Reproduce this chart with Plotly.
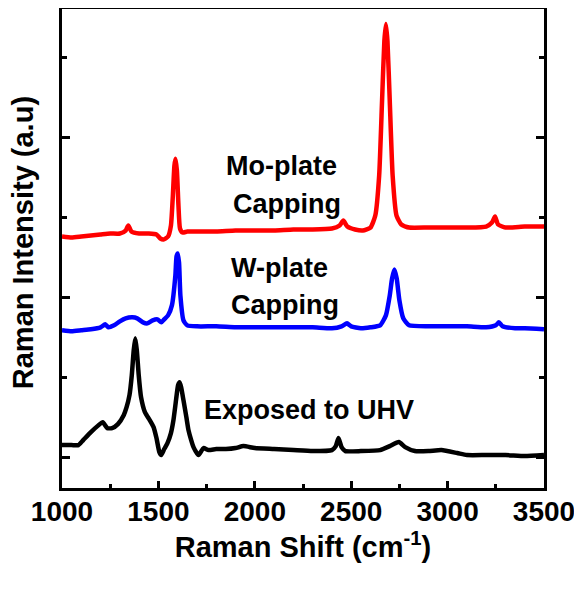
import plotly.graph_objects as go

# Raman shift (cm^-1) and intensity (a.u., offset stacked)
uhv_shift = [1000, 1050, 1085, 1110, 1150, 1190, 1211, 1235, 1260, 1290, 1320, 1335, 1350, 1362,
             1372, 1380, 1388, 1398, 1410, 1430, 1455, 1475, 1490, 1505, 1515, 1530, 1547, 1565,
             1578, 1592, 1602, 1610, 1618, 1630, 1645, 1656, 1670, 1682, 1708, 1734, 1760, 1800,
             1850, 1900, 1941, 2000, 2100, 2200, 2300, 2400, 2420, 2434, 2450, 2470, 2550, 2650,
             2700, 2747, 2780, 2830, 2900, 2968, 3050, 3100, 3200, 3300, 3400, 3500]
uhv_int = [12, 12, 12, 17, 25, 32, 35, 29, 29, 33, 42, 50, 62, 82,
           107, 119, 107, 82, 60, 45, 37, 30, 19, 5, 2, 8, 14, 24,
           37, 58, 72, 75, 70, 57, 40, 27, 17, 10, 2, 9, 7, 8,
           8, 9, 11, 9, 8, 7, 6, 7, 11, 19, 10, 6, 6, 7,
           11, 15, 10, 6, 6, 7, 4, 2, 2, 2, 1, 2]

w_shift = [1000, 1050, 1100, 1150, 1200, 1224, 1240, 1270, 1300, 1330, 1365, 1390, 1420, 1443,
           1470, 1495, 1515, 1530, 1550, 1570, 1588, 1594, 1600, 1607, 1614, 1630, 1650, 1700,
           1800, 1900, 2000, 2100, 2200, 2300, 2400, 2450, 2478, 2500, 2550, 2600, 2650, 2680,
           2700, 2712, 2724, 2736, 2750, 2770, 2800, 2900, 3000, 3100, 3200, 3250, 3266, 3285,
           3350, 3400, 3500]
w_int = [127, 126, 127, 128, 130, 133, 130, 132, 136, 139, 140, 139, 135, 134,
         137, 138, 135, 138, 142, 152, 182, 201, 204, 195, 162, 137, 132, 131,
         131, 130, 130, 130, 130, 130, 129, 131, 134, 131, 129, 130, 132, 142,
         162, 179, 188, 179, 157, 139, 132, 131, 131, 131, 130, 132, 135, 131,
         129, 129, 128]

mo_shift = [1000, 1050, 1100, 1150, 1200, 1250, 1300, 1330, 1344, 1360, 1400, 1450, 1490, 1510,
            1526, 1550, 1565, 1575, 1583, 1589, 1596, 1604, 1612, 1625, 1650, 1700, 1800, 1900,
            2000, 2100, 2200, 2300, 2400, 2440, 2459, 2480, 2520, 2560, 2600, 2625, 2645, 2660,
            2672, 2680, 2688, 2700, 2715, 2735, 2760, 2800, 2900, 3000, 3100, 3200, 3230, 3246,
            3262, 3300, 3400, 3500]
mo_int = [221, 220, 221, 222, 223, 224, 224, 227, 232, 226, 224, 224, 223, 219,
          218, 221, 232, 262, 292, 299, 287, 252, 229, 225, 226, 226, 226, 227,
          227, 227, 228, 228, 229, 232, 237, 231, 228, 227, 230, 242, 282, 357,
          417, 434, 417, 357, 282, 242, 233, 230, 230, 230, 230, 231, 235, 241,
          233, 230, 231, 231]

labels = ["Mo-plate", "Capping", "W-plate", "Capping", "Exposed to UHV"]
label_x = [2141, 2167, 2130, 2156, 2281]
label_y = [292, 254, 189, 152, 47]

x_title = "Raman Shift (cm<sup>-1</sup>)"
y_title = "Raman Intensity (a.u)"

FONT = "Liberation Sans, Arial, sans-serif"

fig = go.Figure()
for xs, ys, col in [(uhv_shift, uhv_int, "black"), (w_shift, w_int, "blue"), (mo_shift, mo_int, "red")]:
    fig.add_trace(go.Scatter(x=xs, y=ys, mode="lines",
                             line=dict(color=col, width=4.5, shape="spline", smoothing=0.5),
                             showlegend=False, hoverinfo="skip"))

for t, x, y in zip(labels, label_x, label_y):
    fig.add_annotation(x=x, y=y, xref="x", yref="y", text=t, showarrow=False,
                       font=dict(family=FONT, size=27, color="black", weight="bold"),
                       xanchor="center", yanchor="middle")

# y-axis title as a rotated annotation so it can sit close to the page edge
fig.add_annotation(x=-0.081, y=0.513, xref="paper", yref="paper", text=y_title,
                   textangle=-90, showarrow=False, xanchor="center", yanchor="middle",
                   font=dict(family=FONT, size=29, color="black", weight="bold"))

# page has an 8px body margin, so the figure is 8px smaller than the window
fig.update_layout(
    width=574, height=599,
    margin=dict(l=54, r=38, t=1, b=119),
    paper_bgcolor="white", plot_bgcolor="white",
    font=dict(family=FONT, color="black"),
    xaxis=dict(range=[1000, 3500], dtick=500, tick0=1000, automargin=False,
               showgrid=False, zeroline=False,
               showline=True, linecolor="black", linewidth=3, mirror=True,
               ticks="inside", ticklen=7, tickwidth=2.5, tickcolor="black",
               minor=dict(dtick=250, ticks="inside", ticklen=4, tickwidth=2.5, tickcolor="black"),
               tickfont=dict(family=FONT, size=28, color="black", weight="bold"),
               ticklabelstandoff=-4,
               title=dict(text=x_title,
                          font=dict(family=FONT, size=29, color="black", weight="bold"), standoff=8)),
    yaxis=dict(range=[-31, 449], dtick=160, tick0=0, automargin=False,
               showgrid=False, zeroline=False, showticklabels=False,
               showline=True, linecolor="black", linewidth=3, mirror="ticks",
               ticks="inside", ticklen=8, tickwidth=2.5, tickcolor="black",
               minor=dict(dtick=80, ticks="inside", ticklen=5, tickwidth=2.5, tickcolor="black")),
)

fig.write_html("out.html")
